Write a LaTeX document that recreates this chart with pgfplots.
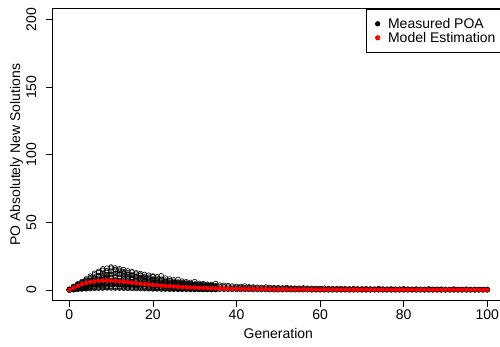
\documentclass[border=0pt]{standalone}
\usepackage{fontspec}
\setmainfont{Liberation Sans}
\usepackage{pgfplots}
\usepackage{pgfplotstable}
\pgfplotsset{compat=1.18}

\pgfplotstableread{
g a b c d e f p h
0 0 0.1 0.3 0 0.2 0 0.4 0
1 0.4 1.1 1.8 0.2 2.4 0.7 1.4 0.1
2 0.8 2.1 3.2 0.4 4.1 1.3 2.7 0.6
3 1.2 3.0 4.6 0.6 5.8 1.9 3.8 0.9
4 1.5 3.8 6.1 0.8 7.4 2.6 5.0 1.1
5 1.8 4.6 7.2 0.9 9.1 3.2 6.1 1.4
6 2.1 5.3 8.6 1.1 11.2 3.7 7.0 1.6
7 2.3 5.9 9.8 1.2 12.9 4.2 7.9 1.8
8 2.5 6.4 10.7 1.3 14.6 4.6 8.6 1.9
9 2.6 6.8 11.4 1.4 16.2 4.9 9.2 2.0
10 2.7 7.0 11.9 1.4 17.1 5.1 9.6 2.1
11 2.7 7.1 12.3 1.3 16.4 5.2 9.8 2.0
12 2.6 7.0 12.1 1.3 15.8 5.1 9.7 1.9
13 2.5 6.8 11.7 1.2 15.1 5.0 9.4 1.8
14 2.4 6.6 11.2 1.1 14.2 4.8 9.0 1.7
15 2.3 6.3 10.6 1.1 13.5 4.6 8.5 1.6
16 2.2 6.0 10.0 1.0 12.7 4.4 8.0 1.5
17 2.0 5.7 9.4 0.9 12.2 4.1 7.5 1.4
18 1.9 5.3 8.8 0.9 11.6 3.9 7.0 1.3
19 1.8 5.0 8.2 0.8 11.0 3.6 6.6 1.2
20 1.7 4.7 7.7 0.7 10.4 3.4 6.1 1.1
21 1.6 4.4 7.2 0.7 9.8 3.2 5.7 1.0
22 1.5 4.1 6.7 0.6 10.6 3.0 5.3 0.9
23 1.4 3.8 6.3 0.6 8.9 2.8 5.0 0.9
24 1.3 3.6 5.9 0.5 8.2 2.6 4.7 0.8
25 1.2 3.3 5.5 0.5 7.6 2.4 4.4 0.7
26 1.1 3.1 5.1 0.4 7.9 2.2 4.1 0.7
27 1.0 2.9 4.8 0.4 6.6 2.1 3.8 0.6
28 0.9 2.7 4.5 0.4 6.1 1.9 3.5 0.6
29 0.9 2.5 4.2 0.3 5.7 1.8 3.3 0.5
30 0.8 2.3 3.9 0.3 6.3 1.6 3.1 0.5
31 0.7 2.2 3.6 0.3 5.0 1.5 2.8 0.4
32 0.7 2.0 3.4 0.3 4.7 1.4 2.6 0.4
33 0.6 1.9 3.2 0.2 4.4 1.3 2.5 0.4
34 0.6 1.8 3.0 0.2 4.1 1.2 2.3 0.3
35 0.5 1.6 2.8 0.2 4.8 1.1 2.2 0.3
}\measA

\pgfplotstableread{
g q r s t u v w z
0 0.1 0.5 0 0.2 0.6 0 0.3 0.1
1 0.9 2.8 0.5 1.9 0.3 1.6 2.2 0.6
2 1.9 4.6 1.1 3.4 0.7 2.6 3.9 1.5
3 2.5 6.3 1.7 4.1 1.3 3.3 5.4 2.2
4 3.4 8.2 2.2 5.7 1.9 4.4 6.8 2.9
5 4.1 10.3 2.7 6.6 2.4 5.2 8.3 3.6
6 4.6 12.4 3.0 7.9 2.8 6.3 9.6 4.4
7 5.3 13.8 3.6 8.8 3.1 7.1 10.7 4.9
8 5.6 15.7 3.9 9.9 3.4 7.8 12.2 5.3
9 6.1 14.3 4.4 10.8 3.6 8.4 13.1 5.8
10 6.4 16.2 4.1 11.3 3.8 8.9 13.8 6.1
11 6.2 15.3 4.6 10.9 3.9 9.1 14.6 5.9
12 6.0 14.7 4.2 11.4 3.6 8.7 13.9 6.2
13 5.7 13.6 4.3 10.6 3.4 8.3 12.8 5.6
14 5.5 12.9 3.9 10.1 3.2 8.1 11.8 5.3
15 5.2 13.3 3.7 9.3 3.1 7.6 11.2 4.9
16 4.9 11.8 3.4 8.9 2.9 7.2 10.3 4.7
17 4.6 11.1 3.2 8.3 2.7 6.8 10.8 4.3
18 4.3 10.2 3.0 7.7 2.4 6.2 9.4 4.1
19 4.0 9.6 2.8 7.3 2.2 5.9 8.8 3.7
20 3.8 9.9 2.6 6.8 2.1 5.4 8.2 3.5
21 3.5 8.7 2.4 6.4 1.9 5.1 7.6 3.2
22 3.3 8.1 2.2 5.9 1.8 4.8 7.1 3.0
23 3.1 7.4 2.1 5.6 1.6 4.4 6.5 2.8
24 2.9 6.9 1.9 5.2 1.5 4.1 6.8 2.6
25 2.7 6.4 1.8 4.8 1.4 3.9 5.7 2.4
26 2.5 5.9 1.6 4.5 1.3 3.6 5.3 2.3
27 2.3 5.6 1.5 4.2 1.2 3.3 4.9 2.1
28 2.2 5.2 1.4 3.9 1.1 3.1 4.6 1.9
29 2.0 4.8 1.3 3.6 1.0 2.9 4.3 1.8
30 1.9 4.5 1.2 3.4 0.9 2.7 4.0 1.7
31 1.8 4.2 1.1 3.1 0.9 2.5 3.7 1.5
32 1.6 3.9 1.0 2.9 0.8 2.3 3.5 1.4
33 1.5 3.7 0.9 2.7 0.7 2.2 3.3 1.3
34 1.4 3.4 0.9 2.6 0.7 2.0 3.1 1.2
35 1.3 3.2 0.8 2.4 0.6 1.9 2.9 1.1
}\measC

\pgfplotstableread{
g a b c d
36 0.5 1.5 2.6 3.7
37 0.4 1.4 2.4 3.5
38 0.4 1.3 2.3 3.3
39 0.4 1.2 2.1 3.0
40 0.3 1.1 2.0 2.8
41 0.3 1.0 1.9 2.7
42 0.3 1.0 1.8 3.0
43 0.3 0.9 1.7 2.4
44 0.2 0.9 1.6 2.3
45 0.2 0.8 1.5 2.1
46 0.2 0.8 1.4 2.0
47 0.2 0.7 1.4 2.2
48 0.2 0.7 1.3 1.9
49 0.1 0.7 1.2 1.8
50 0.1 0.6 1.2 1.7
51 0.1 0.6 1.1 1.6
52 0.1 0.6 1.1 1.9
53 0.1 0.5 1.0 1.5
54 0.1 0.5 1.0 1.4
55 0.1 0.5 0.9 1.4
56 0.1 0.5 0.9 1.6
57 0.1 0.4 0.9 1.3
58 0.0 0.4 0.8 1.3
59 0.0 0.4 0.8 1.2
60 0.0 0.4 0.8 1.2
61 0.0 0.4 0.7 1.4
62 0.0 0.3 0.7 1.1
63 0.0 0.3 0.7 1.1
64 0.0 0.3 0.7 1.0
65 0.0 0.3 0.6 1.2
66 0.0 0.3 0.6 1.0
67 0.0 0.3 0.6 0.9
68 0.0 0.3 0.6 1.1
69 0.0 0.3 0.6 0.9
70 0.0 0.2 0.5 0.9
71 0.0 0.2 0.5 1.0
72 0.0 0.2 0.5 0.8
73 0.0 0.2 0.5 0.8
74 0.0 0.2 0.5 1.1
75 0.0 0.2 0.5 0.8
76 0.0 0.2 0.4 0.7
77 0.0 0.2 0.4 0.9
78 0.0 0.2 0.4 0.7
79 0.0 0.2 0.4 0.7
80 0.0 0.2 0.4 1.0
81 0.0 0.2 0.4 0.7
82 0.0 0.2 0.4 0.6
83 0.0 0.1 0.4 0.8
84 0.0 0.1 0.4 0.6
85 0.0 0.1 0.3 0.6
86 0.0 0.1 0.3 0.9
87 0.0 0.1 0.3 0.6
88 0.0 0.1 0.3 0.6
89 0.0 0.1 0.3 0.7
90 0.0 0.1 0.3 0.5
91 0.0 0.1 0.3 0.5
92 0.0 0.1 0.3 0.8
93 0.0 0.1 0.3 0.5
94 0.0 0.1 0.3 0.5
95 0.0 0.1 0.3 0.7
96 0.0 0.1 0.3 0.5
97 0.0 0.1 0.2 0.6
98 0.0 0.1 0.2 0.5
99 0.0 0.1 0.2 0.5
100 0.0 0.1 0.2 0.6
}\measB

\pgfplotstableread{
g m
0 0
1 1.6
2 3.0
3 4.2
4 5.2
5 5.9
6 6.4
7 6.8
8 7.0
9 7.0
10 6.9
11 6.7
12 6.4
13 6.1
14 5.8
15 5.4
16 5.1
17 4.7
18 4.4
19 4.1
20 3.8
21 3.5
22 3.2
23 3.0
24 2.8
25 2.6
26 2.4
27 2.2
28 2.0
29 1.9
30 1.75
31 1.6
32 1.5
33 1.4
34 1.3
35 1.2
36 1.1
37 1.05
38 1.0
39 0.95
40 0.9
41 0.85
42 0.8
43 0.75
44 0.72
45 0.7
46 0.66
47 0.63
48 0.6
49 0.58
50 0.55
51 0.53
52 0.51
53 0.49
54 0.47
55 0.45
56 0.44
57 0.42
58 0.41
59 0.40
60 0.38
61 0.37
62 0.36
63 0.35
64 0.34
65 0.33
66 0.32
67 0.31
68 0.30
69 0.30
70 0.29
71 0.28
72 0.28
73 0.27
74 0.26
75 0.26
76 0.25
77 0.25
78 0.24
79 0.24
80 0.23
81 0.23
82 0.22
83 0.22
84 0.21
85 0.21
86 0.21
87 0.20
88 0.20
89 0.20
90 0.19
91 0.19
92 0.19
93 0.18
94 0.18
95 0.18
96 0.17
97 0.17
98 0.17
99 0.16
100 0.16
}\model

\begin{document}
\begin{tikzpicture}
\useasboundingbox (0,0) rectangle (500pt,347pt);
\begin{axis}[
  at={(52.6pt,46.2pt)}, anchor=south west,
  scale only axis, width=451.4pt, height=292pt,
  xmin=-4, xmax=104, ymin=-8, ymax=208,
  xtick={0,20,40,60,80,100},
  ytick={0,50,100,150,200},
  xtick pos=bottom, ytick pos=left,
  tick align=outside,
  major tick length=6.5pt,
  axis line style={line width=0.8pt},
  every tick/.style={line width=0.8pt, black},
  font=\fontsize{14}{16}\selectfont,
  /pgf/number format/assume math mode=true,
  xticklabel style={anchor=north, inner sep=0pt, yshift=-2pt},
  yticklabel style={rotate=90, anchor=south, inner sep=0pt},
  yticklabel shift=9.6pt,
  xlabel={Generation},
  ylabel={PO Absolutely New Solutions},
  every axis x label/.style={at={(axis description cs:0.5,-0.1308)}, anchor=base},
  every axis y label/.style={at={(axis description cs:-0.0722,0.5)}, rotate=90, anchor=base},
  legend cell align=left,
  legend style={at={(rel axis cs:0.694,1)}, anchor=north west, draw=black, line width=0.8pt,
    inner xsep=8.8pt, inner ysep=7.6pt, row sep=0pt,
    font=\fontsize{14}{16}\selectfont,
    nodes={inner sep=0pt, text height=11.6pt, text depth=2.4pt},
    /tikz/every odd column/.style={column sep=7.8pt}},
  legend image code/.code={\fill[#1] (0pt,0pt) circle (2.2pt);},
]
\addlegendimage{black}
\addlegendentry{Measured POA}
\addlegendimage{red}
\addlegendentry{Model Estimation}
\pgfplotsinvokeforeach{a,b,c,d,e,f,p,h}{
  \addplot[only marks, mark=o, mark size=2.3pt, mark options={draw=black, line width=0.6pt}, forget plot] table[x=g, y=#1] {\measA};
}
\pgfplotsinvokeforeach{q,r,s,t,u,v,w,z}{
  \addplot[only marks, mark=o, mark size=2.3pt, mark options={draw=black, line width=0.6pt}, forget plot] table[x=g, y=#1] {\measC};
}
\pgfplotsinvokeforeach{a,b,c,d}{
  \addplot[only marks, mark=o, mark size=2.3pt, mark options={draw=black, line width=0.6pt}, forget plot] table[x=g, y=#1] {\measB};
}
\addplot[only marks, mark=*, mark size=2.1pt, mark options={draw=red, fill=red, line width=0.2pt}, forget plot] table[x=g, y=m] {\model};
\end{axis}
\end{tikzpicture}
\end{document}
